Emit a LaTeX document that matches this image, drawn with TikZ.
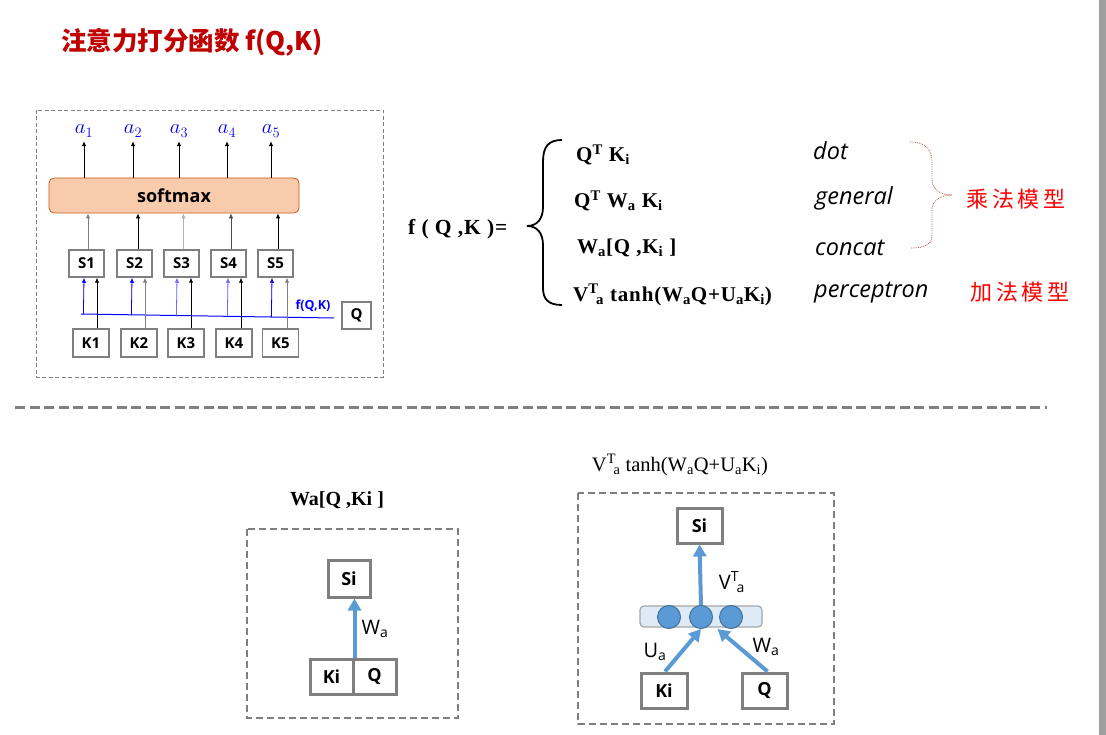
\documentclass[tikz,border=0pt]{standalone}
\usepackage{fontspec}
\setmainfont{Liberation Serif}
\newfontfamily\cjk{Noto Sans CJK SC}
\newfontfamily\osans{Open Sans}
\newfontfamily\wserif{Liberation Serif}[LetterSpace=4]
\usetikzlibrary{arrows.meta,calc}
\definecolor{titlered}{HTML}{C00000}
\definecolor{boxgray}{HTML}{7F7F7F}
\definecolor{softfill}{HTML}{F8CBAD}
\definecolor{softedge}{HTML}{C55A11}
\definecolor{nnblue}{HTML}{5B9BD5}
\definecolor{nnedge}{HTML}{41719C}
\definecolor{barfill}{HTML}{DEEBF7}
\definecolor{fblue}{HTML}{0000FF}
\definecolor{lblue}{HTML}{6B6BFF}
\definecolor{sepgray}{HTML}{808080}
\definecolor{bracered}{HTML}{C0504D}
\newcommand\fsz[1]{\fontsize{#1}{#1}\selectfont}
\newcommand\vta{V\textsuperscript{T}\kern-0.12em\textsubscript{a}}
\tikzset{
  sbox/.style={draw=boxgray, line width=1.5pt, fill=white, minimum width=35pt, minimum height=27pt, inner sep=0pt, font=\osans\bfseries\fsz{15}},
  kbox/.style={sbox, minimum width=36pt, minimum height=28pt},
  bigbox/.style={draw=boxgray, line width=3pt, fill=white, minimum width=43pt, minimum height=35pt, inner sep=0pt, font=\osans\bfseries\fsz{18}},
  karr/.style={line width=0.8pt, -{Latex[length=5pt,width=4.5pt]}},
  barr/.style={karr, draw=fblue, fill=fblue},
  larr/.style={karr, draw=lblue, fill=lblue},
  fatarr/.style={draw=nnblue, line width=4pt, -{Triangle[length=12pt,width=13pt]}},
  frml/.style={anchor=west, font=\wserif\bfseries\fsz{21}, inner sep=0pt},
  ital/.style={anchor=west, font=\osans\itshape\fsz{23.5}, inner sep=0pt},
  alab/.style={text=fblue, font=\fsz{20}, inner sep=1pt},
  wlab/.style={font=\osans\fsz{20}, inner sep=0pt},
  thinbox/.style={draw=boxgray, line width=0.8pt, dash pattern=on 4pt off 2.5pt},
  thickbox/.style={draw=boxgray, line width=1.8pt, dash pattern=on 7pt off 4pt},
  neuron/.style={circle, draw=nnedge, line width=1pt, fill=nnblue, minimum size=23pt, inner sep=0pt}
}
\begin{document}
\begin{tikzpicture}[x=1pt,y=-1pt]
\useasboundingbox (0,0) rectangle (1106,735);
\fill[white] (0,0) rectangle (1106,735);
\fill[gray!75] (1099,0) rectangle (1106,735);

% title
\node[anchor=west, text=titlered, font=\cjk\bfseries\fsz{25.5}, inner sep=0pt] (title) at (61,42) {注意力打分函数 f(Q,K)};

% ---------- left diagram ----------
\draw[thinbox] (36,110) rectangle (383,377);
\node[draw=softedge, fill=softfill, rounded corners=5pt, line width=0.8pt, minimum width=250pt, minimum height=35pt, inner sep=0pt, font=\osans\bfseries\fsz{18}] (smax) at (174,195.5) {softmax};

\foreach \i/\x in {1/84,2/133,3/179,4/227,5/271}{
  \node[alab] (a\i) at (\x,131) {$a_{\i}$};
  \draw[karr] (smax.north -| a\i) -- ([yshift=-3pt]a\i.south);
}

\foreach \i/\x in {1/86.5,2/134.5,3/181.5,4/228.5,5/275.5}{
  \node[sbox] (s\i) at (\x,263.5) {S\i};
}
\foreach \i/\x in {1/91,2/139,3/186,4/234,5/280.5}{
  \node[kbox] (k\i) at (\x,343) {K\i};
}
\node[sbox, minimum width=29pt] (q) at (356.5,315.5) {Q};

% S -> softmax
\draw[karr, draw=gray] ([xshift=1.5pt]s1.north) -- ([xshift=1.5pt]s1.north |- smax.south);
\draw[karr] ([xshift=3.5pt]s2.north) -- ([xshift=3.5pt]s2.north |- smax.south);
\draw[karr, draw=gray!60] ([xshift=2pt]s3.north) -- ([xshift=2pt]s3.north |- smax.south);
\draw[karr, draw=black!70] ([xshift=2.5pt]s4.north) -- ([xshift=2.5pt]s4.north |- smax.south);
\draw[karr] ([xshift=2.5pt]s5.north) -- ([xshift=2.5pt]s5.north |- smax.south);

% blue line f(Q,K)
\coordinate (fl) at (81,314);
\coordinate (fr) at (334,318);
\draw[fblue, line width=1pt] (fl) -- (fr);
\node[text=fblue, font=\osans\bfseries\fsz{12.5}, inner sep=0pt] (fqk) at (313,306) {f(Q,K)};

\draw[barr] ($(fl)!([xshift=-2.5pt]s1.south)!(fr)$) -- ([xshift=-2.5pt]s1.south);
\draw[barr] ($(fl)!([xshift=-2.5pt]s2.south)!(fr)$) -- ([xshift=-2.5pt]s2.south);
\draw[larr] ($(fl)!([xshift=-4.5pt]s3.south)!(fr)$) -- ([xshift=-4.5pt]s3.south);
\draw[larr] ($(fl)!([xshift=-0.5pt]s4.south)!(fr)$) -- ([xshift=-0.5pt]s4.south);
\draw[barr] ($(fl)!([xshift=-3.5pt]s5.south)!(fr)$) -- ([xshift=-3.5pt]s5.south);

% K -> S
\draw[karr] ([xshift=6pt]k1.north) -- ([xshift=6pt]k1.north |- s1.south);
\draw[karr, draw=gray] ([xshift=6pt]k2.north) -- ([xshift=6pt]k2.north |- s2.south);
\draw[karr] ([xshift=5pt]k3.north) -- ([xshift=5pt]k3.north |- s3.south);
\draw[karr] ([xshift=7pt]k4.north) -- ([xshift=7pt]k4.north |- s4.south);
\draw[karr, draw=gray] ([xshift=6.5pt]k5.north) -- ([xshift=6.5pt]k5.north |- s5.south);

% ---------- formula ----------
\node[frml, font=\wserif\bfseries\fsz{21.5}] (fqkeq) at (408,229) {f ( Q ,K )=};
\draw[line width=1.8pt] (562,140) .. controls (548,140) and (543,147) .. (543,162) -- (543,207)
  .. controls (543,219) and (537,226) .. (527,226)
  .. controls (537,226) and (543,233) .. (543,245) -- (543,288)
  .. controls (543,299) and (548,305) .. (562,305);

\node[frml] (f1) at (576,155) {Q\textsuperscript{T} K\textsubscript{i}};
\node[frml] (f2) at (574,201) {Q\textsuperscript{T} W\textsubscript{a} K\textsubscript{i}};
\node[frml] (f3) at (577,248) {W\textsubscript{a}[Q ,K\textsubscript{i} ]};
\node[frml] (f4) at (573,295) {\vta\ tanh(W\textsubscript{a}Q+U\textsubscript{a}K\textsubscript{i})};

\node[ital] (dot) at (813,151) {dot};
\node[ital] (gen) at (815,198) {general};
\node[ital] (con) at (815,248) {concat};
\node[ital] (per) at (814,293) {perceptron};

\draw[bracered, line width=0.8pt, densely dotted] (910,142) .. controls (926,142) and (932,150) .. (932,162) -- (932,180)
  .. controls (932,189) and (940,195) .. (952,195)
  .. controls (940,195) and (932,201) .. (932,210) -- (932,235)
  .. controls (932,244) and (926,248) .. (910,248);

\node[text=red, font=\cjk\fsz{22}, inner sep=0pt] (mul) at (1016,199) {乘\,法\,模\,型};
\node[text=red, font=\cjk\fsz{22}, inner sep=0pt] (add) at (1020,292) {加\,法\,模\,型};

% separator
\coordinate (sepl) at (15,407);
\coordinate (sepr) at (1047,407);
\draw[sepgray, line width=3pt, dash pattern=on 10pt off 4.5pt] (sepl) -- (sepr);

% ---------- bottom left ----------
\node[font=\bfseries\fsz{20}, inner sep=0pt] (tl) at (337,500) {Wa[Q ,Ki ]};
\draw[thickbox] (247,529) rectangle (458,718);
\node[bigbox, minimum width=42pt, minimum height=37pt] (siA) at (349,578.5) {Si};
\node[bigbox] (kiA) at (331.5,676.5) {Ki};
\node[bigbox] (qA) at (374.5,676.5) {Q};
\draw[fatarr] (kiA.north east) -- (kiA.north east |- siA.south);
\node[wlab] (waA) at (375,629) {W\textsubscript{a}};

% ---------- bottom right ----------
\node[font=\fsz{20.5}, inner sep=0pt] (tr) at (680,465) {\vta\ tanh(W\textsubscript{a}Q+U\textsubscript{a}K\textsubscript{i})};
\draw[thickbox] (578,493) rectangle (834,724);
\node[bigbox, minimum width=45pt] (siB) at (699.5,525.5) {Si};
\node[draw=gray!70, line width=1.2pt, fill=barfill, rounded corners=4pt, minimum width=122pt, minimum height=21pt, inner sep=0pt] (bar) at (701,616.5) {};
\node[neuron] (c1) at (669,617) {};
\node[neuron] (c2) at (701,617) {};
\node[neuron] (c3) at (731,617) {};
\node[bigbox, minimum width=46pt] (kiB) at (664,690.5) {Ki};
\node[bigbox, minimum width=45pt] (qB) at (764.5,690.5) {Q};
\coordinate (m23) at ($(c2.south)!0.55!(c3.south)$);
\draw[fatarr] (c2.north) -- (siB.south);
\draw[fatarr] ([xshift=1pt]kiB.north) -- (c2.south);
\draw[fatarr] ([xshift=3pt]qB.north) -- (m23);
\node[wlab] (vtal) at (732,582) {\vta};
\node[wlab] (ua) at (655,652) {U\textsubscript{a}};
\node[wlab] (waB) at (766,647) {W\textsubscript{a}};
\end{tikzpicture}
\end{document}
